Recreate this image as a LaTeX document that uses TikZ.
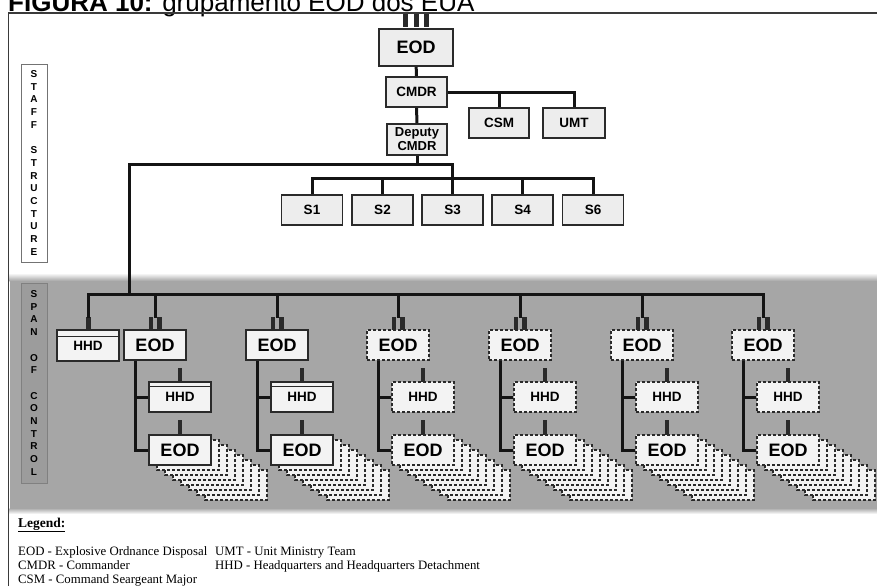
\documentclass[tikz,border=0pt]{standalone}
\usepackage{fontspec}
\setmainfont{Liberation Serif}
\setsansfont{Liberation Sans}
\usetikzlibrary{calc}
\definecolor{areagray}{HTML}{A6A6A6}
\definecolor{spanfill}{HTML}{9C9C9C}
\definecolor{boxfill}{HTML}{EDEDED}
\definecolor{lightfill}{HTML}{F3F3F3}
\definecolor{edge}{HTML}{2A2A2A}
\definecolor{framec}{HTML}{3A3A3A}
\begin{document}
\begin{tikzpicture}[x=1pt,y=-1pt,
  orgbox/.style={draw=edge, line width=1.8pt, fill=boxfill, inner sep=0pt,
    font=\sffamily\bfseries\fontsize{13.5}{14}\selectfont, align=center},
  big/.style={font=\sffamily\bfseries\fontsize{18}{18}\selectfont},
  small/.style={font=\sffamily\bfseries\fontsize{13.5}{14}\selectfont},
  solidbox/.style={draw=edge, line width=1.8pt, fill=lightfill, inner sep=0pt,
    minimum width=62pt, minimum height=30pt},
  dashbox/.style={solidbox, dash pattern=on 3pt off 2pt, line width=1.6pt},
  stackbox/.style={draw=edge, fill=lightfill, dash pattern=on 3pt off 2pt, line width=1.4pt},
  conn/.style={line width=3pt, draw=black!92},
  sidebox/.style={line width=1pt, inner sep=0pt, minimum width=26pt, align=center,
    font=\sffamily\bfseries\fontsize{10}{12.7}\selectfont},
  legend/.style={anchor=base west, font=\rmfamily\fontsize{12.8}{14}\selectfont, inner sep=0pt}
]
\useasboundingbox (0,0) rectangle (877,586);
% title (cut at top, as in the reference)
\node[anchor=base west, inner sep=0pt, font=\sffamily\fontsize{26}{26}\selectfont] (title) at (8,11.5)
  {\textbf{FIGURA 10:} grupamento EOD dos EUA};
% frame
\draw[framec, line width=1.6pt] (8.5,586) -- (8.5,13) -- (877,13);
% gray span-of-control area
\shade[top color=white, bottom color=areagray] (9.5,273) rectangle (877,281);
\fill[areagray] (9.5,281) rectangle (877,508);
\shade[top color=areagray, bottom color=white] (9.5,508) rectangle (877,514);

% side labels
\node[sidebox, draw=black!55, fill=white, minimum height=198pt] (staff) at (34,163)
  {S\\T\\A\\F\\F\\\mbox{}\\S\\T\\R\\U\\C\\T\\U\\R\\E};
\node[sidebox, draw=black!50, fill=spanfill, minimum height=200pt] (span) at (34,383)
  {S\\P\\A\\N\\\mbox{}\\O\\F\\\mbox{}\\C\\O\\N\\T\\R\\O\\L};

% staff structure
\node[orgbox, big, minimum width=74pt, minimum height=37pt] (eod) at (416,47.5) {EOD};
\fill[edge] (403,14) rectangle (408,27);
\fill[edge] (413.5,14) rectangle (418.5,27);
\fill[edge] (424,14) rectangle (429,27);
\node[orgbox, minimum width=61pt, minimum height=30pt] (cmdr) at (416.5,92) {CMDR};
\node[orgbox, minimum width=60pt, minimum height=30pt] (csm) at (499,123) {CSM};
\node[orgbox, minimum width=62pt, minimum height=30pt] (umt) at (574,123) {UMT};
\node[orgbox, minimum width=60pt, minimum height=31pt, font=\sffamily\bfseries\fontsize{13}{14}\selectfont] (dep) at (417,139.5) {Deputy\\CMDR};
\foreach \x/\n in {312/1,382.5/2,452.5/3,522.5/4,593/6}
  \node[orgbox, minimum width=61pt, minimum height=30pt] (s\n) at (\x,210) {S\n};

\draw[conn] (eod) -- (cmdr);
\draw[conn] (cmdr) -- (dep);
\draw[conn] (cmdr.east) -| (umt.north);
\draw[conn] (csm.north) -- (csm.north |- cmdr.east);
\coordinate (hl) at (129.5,164);
\coordinate (sbus) at (0,178);
\draw[conn] (dep.south) -- (dep.south |- hl);
\draw[conn] (129.5,294) -- (hl) -- (s3.north |- hl) -- (s3.north);
\draw[conn] (s1.north) -- (s1.north |- sbus) -- (s6.north |- sbus) -- (s6.north);
\draw[conn] (s2.north) -- (s2.north |- sbus);
\draw[conn] (s4.north) -- (s4.north |- sbus);

% span of control
\coordinate (busL) at (88,294);
\coordinate (busR) at (763,294);
\node[solidbox, small, minimum height=31pt] (hhd0) at (88,345.5) {HHD};
\draw[edge, line width=1.2pt] ([yshift=-7pt]hhd0.north west) -- ([yshift=-7pt]hhd0.north east);
\fill[edge] (86,317) rectangle (91,330.5);
\draw[conn] (88,318) -- (busL) -- (busR) -- (763,318);

\foreach \c/\st [count=\i] in {155/solidbox,277/solidbox,398/dashbox,520/dashbox,642/dashbox,763/dashbox}{
  \pgfmathsetmacro{\cs}{\c+25}
  \draw[conn] (\c,294) -- (\c,318);
  \fill[edge] (\c-6.5,317) rectangle (\c-2,330.5);
  \fill[edge] (\c+2,317) rectangle (\c+6.5,330.5);
  \node[\st, big] (top\i) at (\c,345) {EOD};
  \fill[edge] (\cs-2.3,368) rectangle (\cs+2.3,382.5);
  \node[\st, small] (hhd\i) at (\cs,397) {HHD};
  \foreach \k in {7,6,...,1}
    \filldraw[stackbox] (\c-6+8*\k,435+5*\k) rectangle ++(62,30);
  \fill[edge] (\cs-2.3,420) rectangle (\cs+2.3,435.5);
  \node[\st, big] (sub\i) at (\cs,450) {EOD};
  \coordinate (br\i) at ([xshift=-20pt]top\i.south);
  \draw[conn] (br\i) |- (sub\i.west);
  \draw[conn] (hhd\i.west) -- (hhd\i.west -| br\i);
}
\draw[edge, line width=1.2pt] ([yshift=-5pt]hhd1.north west) -- ([yshift=-5pt]hhd1.north east);
\draw[edge, line width=1.2pt] ([yshift=-5pt]hhd2.north west) -- ([yshift=-5pt]hhd2.north east);

% legend
\node[legend, font=\rmfamily\bfseries\fontsize{13.5}{14}\selectfont] (lgh) at (18,527) {\underline{Legend:}};
\node[legend] (lg1) at (18,555) {EOD - Explosive Ordnance Disposal};
\node[legend] (lg2) at (18,569) {CMDR - Commander};
\node[legend] (lg3) at (18,583) {CSM - Command Seargeant Major};
\node[legend] (lg4) at (215,555) {UMT - Unit Ministry Team};
\node[legend] (lg5) at (215,569) {HHD - Headquarters and Headquarters Detachment};
\end{tikzpicture}
\end{document}
